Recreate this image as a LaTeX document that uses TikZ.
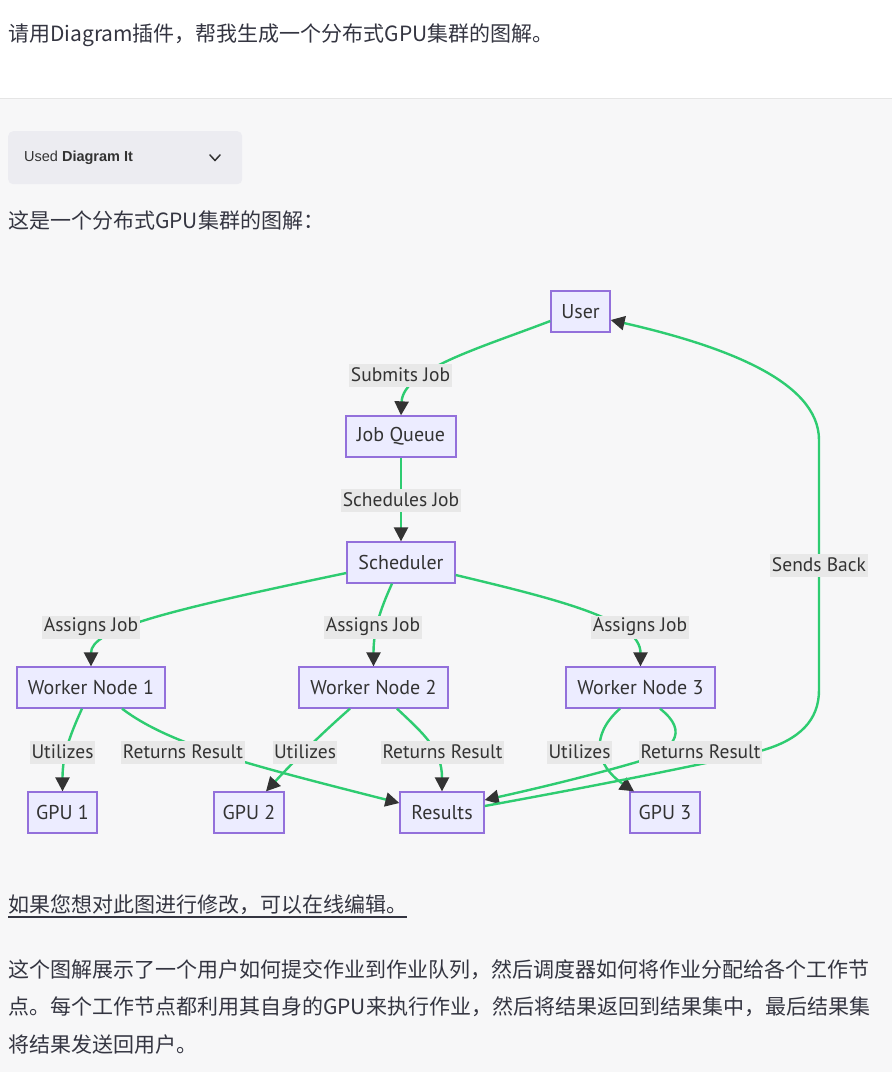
\documentclass[tikz,border=0pt]{standalone}
\usepackage{fontspec}
\setmainfont{PT Sans}
\newfontfamily\cjk{Noto Sans CJK SC}
\newfontfamily\uif{Liberation Sans}
\usetikzlibrary{arrows.meta,calc}
\definecolor{pagebg}{HTML}{F7F7F8}
\definecolor{sepc}{HTML}{E5E5E5}
\definecolor{bodyc}{HTML}{343541}
\definecolor{nodefill}{HTML}{ECECFF}
\definecolor{nodeborder}{HTML}{9370DB}
\definecolor{edgec}{HTML}{2ECC71}
\definecolor{arrowc}{HTML}{333333}
\definecolor{lblfill}{HTML}{E8E8E8}
\definecolor{diagtext}{HTML}{333333}
\definecolor{usedbg}{HTML}{ECECF1}
\begin{document}
\begin{tikzpicture}[x=1pt,y=-1pt,
  box/.style={draw=nodeborder, fill=nodefill, line width=1.3pt, minimum height=41pt, inner sep=0pt, text=diagtext, font=\fontsize{20}{24}\selectfont},
  lbl/.style={fill=lblfill, inner xsep=1.5pt, inner ysep=0pt, minimum height=23pt, text=diagtext, font=\fontsize{19.5}{23}\selectfont},
  edge/.style={draw=edgec, line width=2.4pt, -{Triangle[length=14pt,width=14pt,color=arrowc]}},
  body/.style={anchor=west, inner sep=0pt, text=bodyc, font=\cjk\fontsize{21}{26}\selectfont},
]
\useasboundingbox (0,0) rectangle (892,1072);
\fill[white] (0,0) rectangle (892,98);
\fill[pagebg] (0,98) rectangle (892,1072);
\draw[sepc, line width=1pt] (0,98.5) -- (892,98.5);

% header texts
\node[body] (title) at (8,35) {请用Diagram插件，帮我生成一个分布式GPU集群的图解。};
\node[fill=usedbg, rounded corners=5pt, minimum width=234pt, minimum height=53pt, anchor=north west, inner sep=0pt] (usedbox) at (8,131) {};
\node[anchor=west, inner sep=0pt, text=arrowc, font=\uif\fontsize{14.5}{16}\selectfont] (usedtxt) at (24,158) {Used \textbf{Diagram It}};
\draw[arrowc, line width=1.5pt, line cap=round, line join=round] (210,155) -- (215,160.5) -- (220,155);
\node[body] (intro) at (8,220) {这是一个分布式GPU集群的图解：};

% diagram nodes
\node[box, minimum width=59pt] (user) at (580.5,311.5) {User};
\node[box, minimum width=110pt] (jq) at (401,436.5) {Job Queue};
\node[box, minimum width=108pt] (sch) at (401,562.5) {Scheduler};
\node[box, minimum width=148pt] (wn1) at (91,687.5) {Worker Node 1};
\node[box, minimum width=149pt] (wn2) at (373.5,687.5) {Worker Node 2};
\node[box, minimum width=149pt] (wn3) at (640.5,687.5) {Worker Node 3};
\node[box, minimum width=69pt] (gpu1) at (62.5,812.5) {GPU 1};
\node[box, minimum width=70pt] (gpu2) at (249,812.5) {GPU 2};
\node[box, minimum width=84pt] (res) at (442,812.5) {Results};
\node[box, minimum width=70pt] (gpu3) at (665,812.5) {GPU 3};

% edges
\draw[edge] ($(user.west)+(0,9.5)$) .. controls (480,348) and (403,370) .. (jq.north);
\draw[edge] (jq.south) -- (sch.north);
\draw[edge] ($(sch.west)+(0,10.5)$) .. controls (160,612) and (91,630) .. (wn1.north);
\draw[edge] ($(sch.south)+(-9,0)$) .. controls (380,610) and (373.5,630) .. (wn2.north);
\draw[edge] ($(sch.east)+(0,12.5)$) .. controls (560,600) and (640.5,620) .. (wn3.north);
\draw[edge] ($(wn1.south)+(-9,0)$) .. controls (70,735) and (62.5,755) .. (gpu1.north);
\draw[edge] ($(wn1.south)+(31,0)$) .. controls (170,745) and (250,765) .. ($(res.west)+(0,-9.5)$);
\draw[edge] ($(wn2.south)+(-23.5,0)$) .. controls (320,735) and (295,760) .. ($(gpu2.north)+(17,0)$);
\draw[edge] ($(wn2.south)+(23.5,0)$) .. controls (425,735) and (442,750) .. (res.north);
\draw[edge] ($(wn3.south)+(-20.5,0)$) .. controls (590,735) and (595,765) .. ($(gpu3.north)+(-31,0)$);
\draw[edge] ($(wn3.south)+(19.5,0)$) .. controls (690,732) and (675,752) .. (630,764) .. controls (585,777) and (530,790) .. ($(res.east)+(0,-12.5)$);
\draw[edge] ($(res.east)+(0,-6.5)$) .. controls (600,785) and (700,765) .. (760,751) .. controls (800,740) and (819,720) .. (819,690) -- (819,440) .. controls (819,380) and (720,345) .. ($(user.east)+(0,8.5)$);

% edge labels
\node[lbl] (l1) at (400.5,375) {Submits Job};
\node[lbl] (l2) at (401,500) {Schedules Job};
\node[lbl] (l3) at (819,565) {Sends Back};
\node[lbl] (l4) at (91,627) {Assigns Job};
\node[lbl] (l5) at (373,627) {Assigns Job};
\node[lbl] (l6) at (640,627) {Assigns Job};
\node[lbl] (l7) at (62.5,752) {Utilizes};
\node[lbl] (l8) at (183,752) {Returns Result};
\node[lbl] (l9) at (305,752) {Utilizes};
\node[lbl] (l10) at (442.5,752) {Returns Result};
\node[lbl] (l11) at (579.5,752) {Utilizes};
\node[lbl] (l12) at (700.5,752) {Returns Result};

% footer texts
\node[body] (link) at (8,905) {如果您想对此图进行修改，可以在线编辑。};
\draw[bodyc, line width=1.5pt] (link.south west |- 0,917) -- (link.south east |- 0,917);
\node[body] (p1) at (8,970) {这个图解展示了一个用户如何提交作业到作业队列，然后调度器如何将作业分配给各个工作节};
\node[body] (p2) at (8,1007) {点。每个工作节点都利用其自身的GPU来执行作业，然后将结果返回到结果集中，最后结果集};
\node[body] (p3) at (8,1045) {将结果发送回用户。};
\end{tikzpicture}
\end{document}
